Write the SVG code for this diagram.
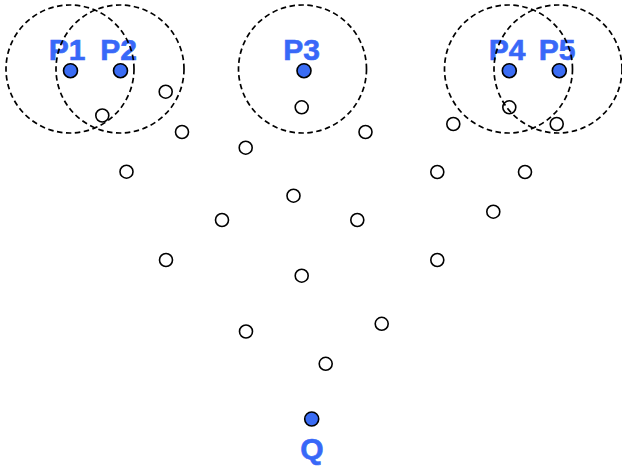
<svg xmlns="http://www.w3.org/2000/svg" width="622" height="470" viewBox="0 0 622 470">
  <style>
    .range { fill: none; stroke: #000; stroke-width: 1.7; stroke-dasharray: 5.5 3.5; }
    .pt { fill: none; stroke: #000; stroke-width: 1.6; }
    .site { fill: #3a6cf4; stroke: #000; stroke-width: 1.6; }
    .lbl { font-family: "Liberation Sans", Arial, sans-serif; font-weight: bold; font-size: 30px; fill: #3868f8; stroke: #3868f8; stroke-width: 0.6; text-anchor: middle; }
  </style>
  <rect width="622" height="470" fill="#fff"/>

  <!-- sample points -->
  <g id="points">
    <circle class="pt" cx="102.3" cy="115.5" r="6.5"/>
    <circle class="pt" cx="165.7" cy="91.7" r="6.5"/>
    <circle class="pt" cx="182" cy="132" r="6.5"/>
    <circle class="pt" cx="126.5" cy="171.7" r="6.5"/>
    <circle class="pt" cx="245.7" cy="147.7" r="6.5"/>
    <circle class="pt" cx="222" cy="220" r="6.5"/>
    <circle class="pt" cx="166" cy="260" r="6.5"/>
    <circle class="pt" cx="293.5" cy="195.7" r="6.5"/>
    <circle class="pt" cx="301.7" cy="107.3" r="6.5"/>
    <circle class="pt" cx="365.5" cy="132" r="6.5"/>
    <circle class="pt" cx="357.3" cy="220" r="6.5"/>
    <circle class="pt" cx="301.7" cy="275.7" r="6.5"/>
    <circle class="pt" cx="246" cy="331.5" r="6.5"/>
    <circle class="pt" cx="381.7" cy="323.8" r="6.5"/>
    <circle class="pt" cx="325.7" cy="363.8" r="6.5"/>
    <circle class="pt" cx="437.3" cy="172" r="6.5"/>
    <circle class="pt" cx="453.3" cy="124" r="6.5"/>
    <circle class="pt" cx="509.3" cy="107.3" r="6.5"/>
    <circle class="pt" cx="556.7" cy="124" r="6.5"/>
    <circle class="pt" cx="525" cy="172" r="6.5"/>
    <circle class="pt" cx="493.3" cy="211.7" r="6.5"/>
    <circle class="pt" cx="437.3" cy="260" r="6.5"/>
  </g>

  <g id="P1">
    <circle class="site" cx="70.5" cy="70.7" r="7"/>
    <text class="lbl" x="67" y="60">P1</text>
  </g>
  <g id="P2">
    <circle class="site" cx="120.5" cy="70.7" r="7"/>
    <text class="lbl" x="118.5" y="60">P2</text>
  </g>
  <g id="P3">
    <circle class="site" cx="304" cy="70.7" r="7"/>
    <text class="lbl" x="301.5" y="60">P3</text>
  </g>
  <g id="P4">
    <circle class="site" cx="509.3" cy="70.7" r="7"/>
    <text class="lbl" x="507" y="60">P4</text>
  </g>
  <g id="P5">
    <circle class="site" cx="559.3" cy="70.7" r="7"/>
    <text class="lbl" x="557" y="60">P5</text>
  </g>
  <g id="Q">
    <circle class="site" cx="311.7" cy="419" r="7"/>
    <text class="lbl" x="312" y="459">Q</text>
  </g>

  <!-- search ranges around each site, drawn over the labels -->
  <g id="ranges">
    <circle class="range" cx="70" cy="69" r="64"/>
    <circle class="range" cx="120" cy="69" r="64"/>
    <circle class="range" cx="302.5" cy="69" r="64"/>
    <circle class="range" cx="508.5" cy="69" r="64"/>
    <circle class="range" cx="558" cy="69" r="64"/>
  </g>
</svg>
